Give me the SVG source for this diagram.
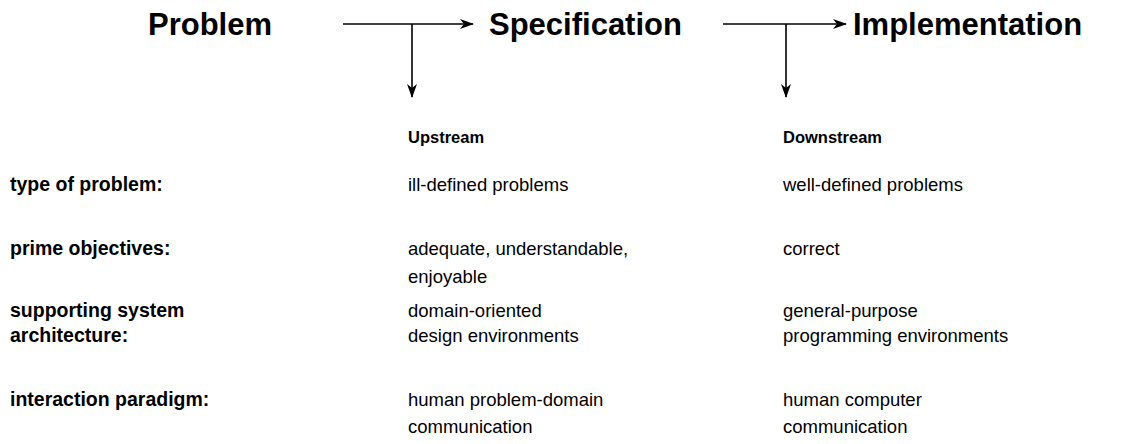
<svg xmlns="http://www.w3.org/2000/svg" width="1135" height="444" viewBox="0 0 1135 444">
<style>
.t{font-family:"Liberation Sans",Arial,sans-serif;font-weight:bold;font-size:31px;fill:#000}
.h{font-family:"Liberation Sans",Arial,sans-serif;font-weight:bold;font-size:16.5px;fill:#000}
.l{font-family:"Liberation Sans",Arial,sans-serif;font-weight:bold;font-size:19.5px;fill:#000}
.v{font-family:"Liberation Sans",Arial,sans-serif;font-size:18.5px;fill:#000}
.c{stroke:#000;stroke-width:1.6;fill:none}
</style>
<defs>
<marker id="ah" viewBox="0 0 14 10" refX="13" refY="5" markerWidth="14" markerHeight="10" markerUnits="userSpaceOnUse" orient="auto">
<path d="M0,0 L14,5 L0,10 L4,5 z" fill="#000"/>
</marker>
</defs>
<rect width="1135" height="444" fill="#fff"/>
<g id="problem"><text class="t" x="148" y="35">Problem</text></g>
<g id="specification"><text class="t" x="489" y="35">Specification</text></g>
<g id="implementation"><text class="t" x="853" y="35">Implementation</text></g>
<g id="connectors">
<line class="c" x1="343" y1="24" x2="473" y2="24" marker-end="url(#ah)"/>
<line class="c" x1="412" y1="24" x2="412" y2="97" marker-end="url(#ah)"/>
<line class="c" x1="723" y1="24" x2="846" y2="24" marker-end="url(#ah)"/>
<line class="c" x1="786" y1="24" x2="786" y2="97" marker-end="url(#ah)"/>
</g>
<g id="upstream"><text class="h" x="408" y="143">Upstream</text></g>
<g id="downstream"><text class="h" x="783" y="143">Downstream</text></g>
<g id="row-type">
<text class="l" x="10" y="191">type of problem:</text>
<text class="v" x="408" y="191">ill-defined problems</text>
<text class="v" x="783" y="191">well-defined problems</text>
</g>
<g id="row-objectives">
<text class="l" x="10" y="255">prime objectives:</text>
<text class="v" x="408" y="255">adequate, understandable,</text>
<text class="v" x="408" y="283">enjoyable</text>
<text class="v" x="783" y="255">correct</text>
</g>
<g id="row-architecture">
<text class="l" x="10" y="317">supporting system</text>
<text class="l" x="10" y="342">architecture:</text>
<text class="v" x="408" y="317">domain-oriented</text>
<text class="v" x="408" y="342">design environments</text>
<text class="v" x="783" y="317">general-purpose</text>
<text class="v" x="783" y="342">programming environments</text>
</g>
<g id="row-interaction">
<text class="l" x="10" y="406">interaction paradigm:</text>
<text class="v" x="408" y="406">human problem-domain</text>
<text class="v" x="408" y="433">communication</text>
<text class="v" x="783" y="406">human computer</text>
<text class="v" x="783" y="433">communication</text>
</g>
</svg>
